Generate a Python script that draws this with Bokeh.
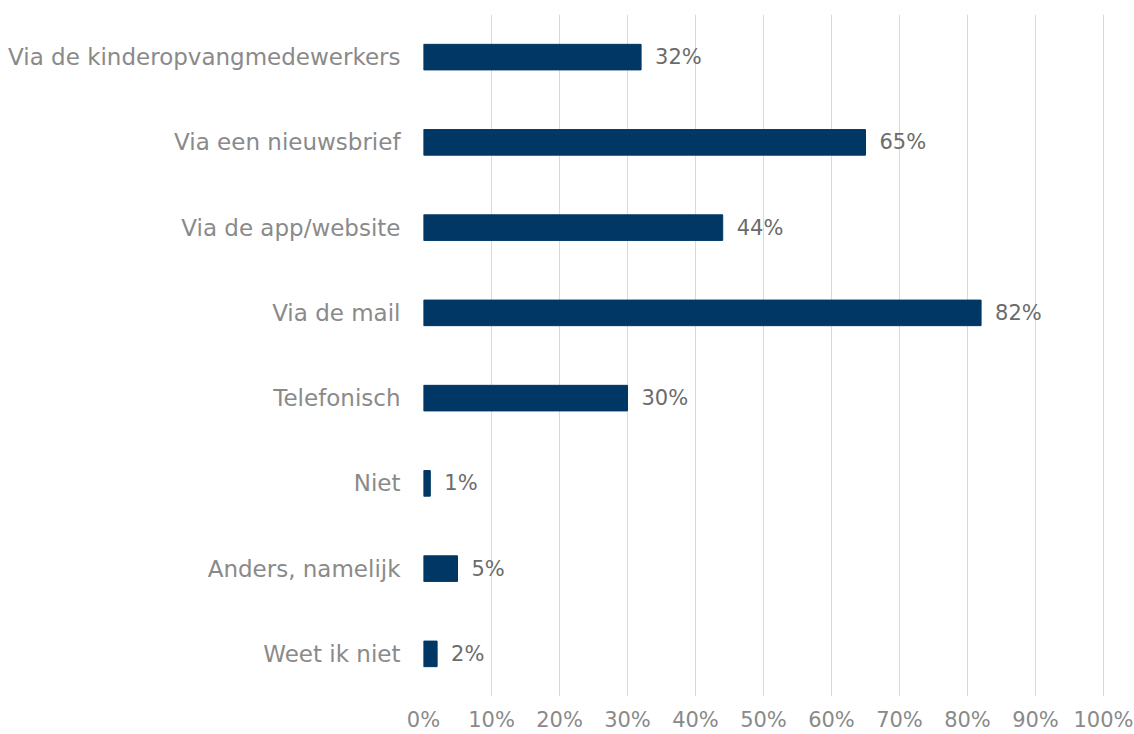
from bokeh.plotting import figure
from bokeh.models import ColumnDataSource, FixedTicker, CustomJSTickFormatter
from bokeh.core.properties import value
from bokeh.embed import file_html
from bokeh.resources import INLINE

categories = ["Via de kinderopvangmedewerkers", "Via een nieuwsbrief", "Via de app/website",
              "Via de mail", "Telefonisch", "Niet", "Anders, namelijk", "Weet ik niet"]
values = [32, 65, 44, 82, 30, 1, 5, 2]
labels = ["32%", "65%", "44%", "82%", "30%", "1%", "5%", "2%"]
x_ticks = [0, 10, 20, 30, 40, 50, 60, 70, 80, 90, 100]

FONT = "DejaVu Sans"
src = ColumnDataSource(dict(cat=categories, val=values, lab=labels))

p = figure(y_range=list(reversed(categories)), x_range=(0, 100.15),
           width=1134, height=734, output_backend="svg", toolbar_location=None,
           min_border_left=423, min_border_right=30, min_border_top=14, min_border_bottom=36)

p.hbar(y="cat", right="val", left=0, height=0.3, source=src,
       fill_color="#003764", line_color="#003764")
p.text(x="val", y="cat", text="lab", source=src, x_offset=14, text_baseline="middle",
       text_align="left", text_font=value(FONT), text_font_size="21px", text_color="#6b6b6b")

p.xaxis.ticker = FixedTicker(ticks=x_ticks)
p.xaxis.formatter = CustomJSTickFormatter(code="return tick + '%';")
p.xaxis.axis_line_color = None
p.xaxis.major_tick_line_color = None
p.xaxis.minor_tick_line_color = None
p.xaxis.major_tick_out = 0
p.xaxis.major_tick_in = 0
p.xaxis.minor_tick_out = 0
p.xaxis.major_label_text_font = FONT
p.xaxis.major_label_text_font_size = "21px"
p.xaxis.major_label_text_color = "#8a8a8a"
p.xaxis.major_label_standoff = 11

p.yaxis.axis_line_color = None
p.yaxis.major_tick_line_color = None
p.yaxis.minor_tick_line_color = None
p.yaxis.major_label_text_font = FONT
p.yaxis.major_label_text_font_size = "23px"
p.yaxis.major_label_text_color = "#8a8a8a"
p.yaxis.major_label_standoff = 17

p.xgrid.grid_line_color = "#d9d9d9"
p.xgrid.grid_line_width = 1
p.ygrid.grid_line_color = None
p.outline_line_color = None

open("out.html", "w").write(file_html(p, INLINE))
